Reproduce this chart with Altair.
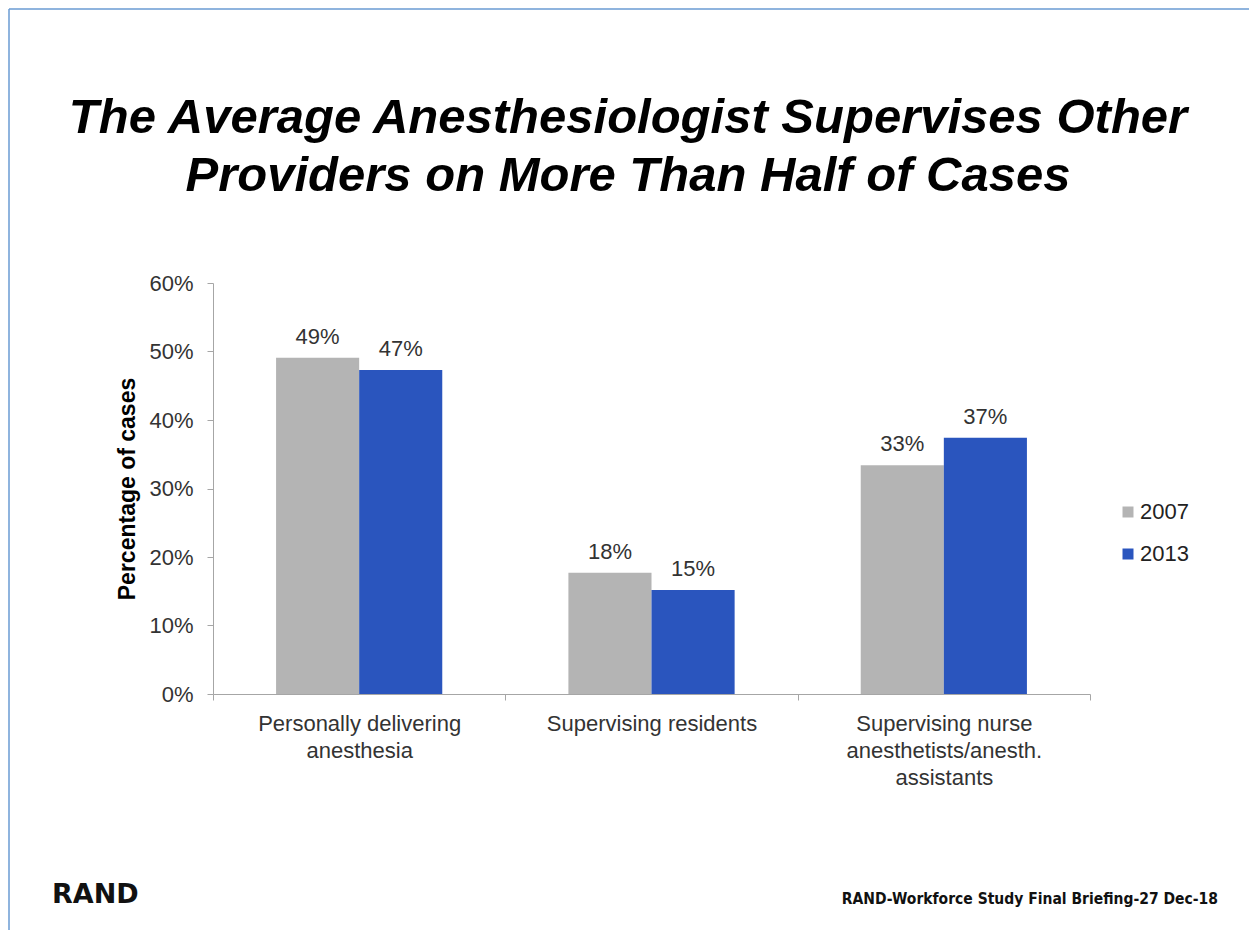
import altair as alt
import pandas as pd

categories = [
    "Personally delivering\nanesthesia",
    "Supervising residents",
    "Supervising nurse\nanesthetists/anesth.\nassistants",
]
years = ["2007", "2013"]
values_2007 = [0.491, 0.177, 0.334]
values_2013 = [0.473, 0.152, 0.374]
colors = ["#B4B4B4", "#2A55BE"]

title_lines = [
    "The Average Anesthesiologist Supervises Other",
    "Providers on More Than Half of Cases",
]
y_title = "Percentage of cases"
footer_left = "RAND"
footer_right = "RAND-Workforce Study Final Briefing-27  Dec-18"

rows = []
for c, a, b in zip(categories, values_2007, values_2013):
    rows.append({"category": c, "year": years[0], "value": a})
    rows.append({"category": c, "year": years[1], "value": b})
df = pd.DataFrame(rows)

FONT = "Liberation Sans, Arial, sans-serif"

base = alt.Chart(df).encode(
    x=alt.X(
        "category:N",
        sort=categories,
        scale=alt.Scale(paddingInner=0, paddingOuter=0),
        axis=alt.Axis(
            title=None,
            labelAngle=0,
            labelExpr="split(datum.label, '\\n')",
            labelFontSize=22,
            labelColor="#333333",
            labelLineHeight=27,
            labelPadding=13,
            labelBaseline="top",
            labelLimit=500,
            tickBand="extent",
            tickSize=6,
            tickColor="#A6A6A6",
            domainColor="#A6A6A6",
            labelFont=FONT,
        ),
    ),
    xOffset=alt.XOffset(
        "year:N", sort=years, scale=alt.Scale(paddingInner=0, paddingOuter=0.759)
    ),
    y=alt.Y(
        "value:Q",
        scale=alt.Scale(domain=[0, 0.6]),
        axis=alt.Axis(
            title=y_title,
            titleFontSize=23,
            titleFontWeight="bold",
            titleColor="#000000",
            titleFont=FONT,
            titlePadding=9,
            format=".0%",
            values=[0, 0.1, 0.2, 0.3, 0.4, 0.5, 0.6],
            labelFontSize=22,
            labelColor="#333333",
            labelFont=FONT,
            labelPadding=14,
            grid=False,
            tickSize=6,
            tickColor="#A6A6A6",
            domainColor="#A6A6A6",
        ),
    ),
)

bars = base.mark_bar().encode(
    color=alt.Color(
        "year:N",
        sort=years,
        scale=alt.Scale(domain=years, range=colors),
        legend=alt.Legend(
            title=None,
            orient="none",
            legendX=904,
            legendY=218,
            symbolType="square",
            symbolSize=121,
            symbolStrokeWidth=0,
            labelFontSize=22,
            labelColor="#222222",
            labelFont=FONT,
            rowPadding=20,
            labelOffset=1,
        ),
    )
)

labels = base.mark_text(
    baseline="bottom", dy=-9, fontSize=22, color="#333333", font=FONT
).encode(text=alt.Text("value:Q", format=".0%"))

one = alt.Data(values=[{}])

title = alt.Chart(one).mark_text(
    text=title_lines,
    align="center",
    baseline="alphabetic",
    fontSize=49,
    fontWeight="bold",
    fontStyle="italic",
    font=FONT,
    color="#000000",
    lineHeight=58,
).encode(x=alt.value(415), y=alt.value(-150))

border_left = alt.Chart(one).mark_rule(color="#6A9BD3", strokeWidth=1.5).encode(
    x=alt.value(-204), y=alt.value(-274), y2=alt.value(647)
)
border_top = alt.Chart(one).mark_rule(color="#6A9BD3", strokeWidth=1.5).encode(
    x=alt.value(-204), x2=alt.value(1036), y=alt.value(-274)
)

rand = alt.Chart(one).mark_text(
    text=footer_left,
    align="left",
    baseline="alphabetic",
    fontSize=27,
    fontWeight="bold",
    font="DejaVu Sans, sans-serif",
    color="#111111",
).encode(x=alt.value(-161), y=alt.value(620))

note = alt.Chart(one).mark_text(
    text=footer_right,
    align="right",
    baseline="alphabetic",
    fontSize=15.5,
    fontWeight="bold",
    font="DejaVu Sans Condensed, Liberation Sans, sans-serif",
    color="#111111",
).encode(x=alt.value(1005), y=alt.value(621))

chart = (
    alt.layer(bars, labels, title, border_left, border_top, rand, note)
    .properties(
        width=877,
        height=411,
        background="white",
        autosize=alt.AutoSizeParams(type="none"),
        padding={"left": 205, "top": 275, "right": 159, "bottom": 236},
    )
    .configure_view(stroke="transparent", strokeWidth=0)
)

chart.save("out.html", embed_options={"renderer": "svg", "actions": False})
